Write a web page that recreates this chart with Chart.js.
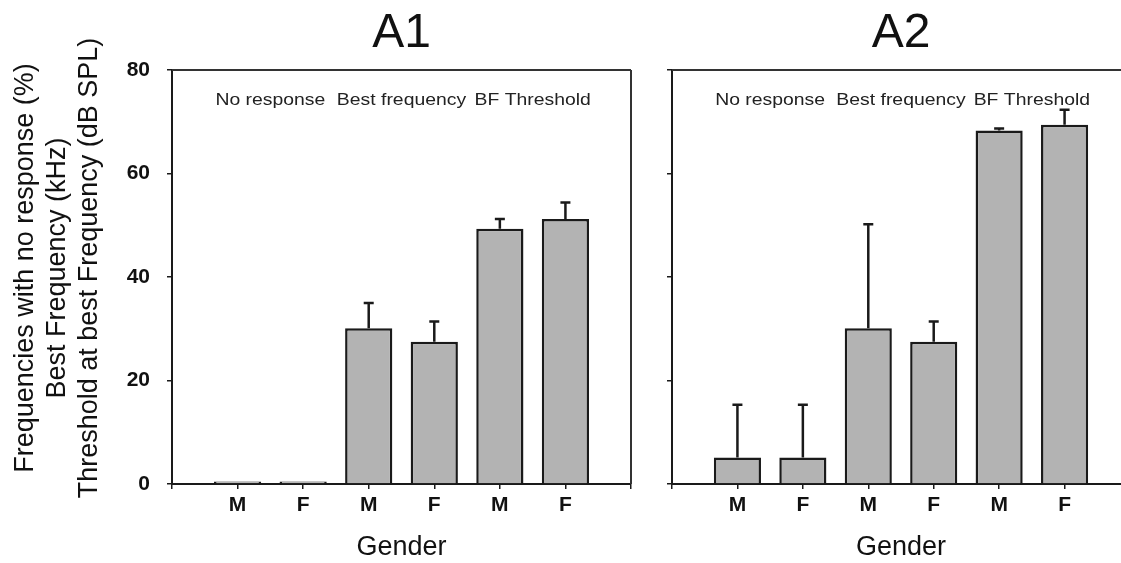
<!DOCTYPE html>
<html>
<head>
<meta charset="utf-8">
<script src="https://cdn.jsdelivr.net/npm/chart.js@4"></script>
<style>
  body { margin: 0; width: 1121px; height: 563px; overflow: hidden; background: #fff; position: relative; }
  .panel { position: absolute; top: 0; }
</style>
</head>
<body>
<div class="panel" style="left:0"><canvas id="chartA1" width="640" height="563"></canvas></div>
<div class="panel" style="left:640px"><canvas id="chartA2" width="500" height="563"></canvas></div>
<script>
// categories
const genders = ['M', 'F', 'M', 'F', 'M', 'F'];
const groupNames = ['No response', 'Best frequency', 'BF Threshold'];
const yTicks = [0, 20, 40, 60, 80];

// A1 means and error (upper bar only)
const a1Means = [0.5, 0.5, 30.1, 27.5, 49.3, 51.2];
const a1Errors = [0, 0, 4.9, 3.9, 1.9, 3.2];

// A2 means and error
const a2Means = [5.1, 5.1, 30.1, 27.5, 68.3, 69.4];
const a2Errors = [10.2, 10.2, 20.1, 3.9, 0.4, 2.9];

const FONT = '"Liberation Sans", Arial, sans-serif';
const INK = '#1a1a1a';

// one empty slot on each side of the six bars
const padLabels = ['', ...genders, ''];
const pad = arr => [null, ...arr, null];

const errorBars = {
    id: 'errorBars',
    afterDatasetsDraw(chart, args, opts) {
        const ctx = chart.ctx;
        const y = chart.scales.y;
        const meta = chart.getDatasetMeta(0);
        ctx.save();
        ctx.strokeStyle = INK;
        ctx.lineWidth = 2.5;
        meta.data.forEach((bar, i) => {
            const mean = chart.data.datasets[0].data[i];
            const err = opts.errors[i];
            if (mean == null || !err) return;
            const top = y.getPixelForValue(mean + err);
            ctx.beginPath();
            ctx.moveTo(bar.x, bar.y);
            ctx.lineTo(bar.x, top);
            ctx.moveTo(bar.x - 5, top);
            ctx.lineTo(bar.x + 5, top);
            ctx.stroke();
        });
        ctx.restore();
    }
};

const decorations = {
    id: 'decorations',
    afterDraw(chart, args, opts) {
        const ctx = chart.ctx;
        const area = chart.chartArea;
        const x = chart.scales.x;
        ctx.save();
        // frame: top line and (optionally) right line
        ctx.strokeStyle = '#333';
        ctx.lineWidth = 2;
        ctx.beginPath();
        ctx.moveTo(area.left, area.top);
        ctx.lineTo(area.right, area.top);
        if (opts.rightBorder) {
            ctx.moveTo(area.right, area.top);
            ctx.lineTo(area.right, area.bottom);
        }
        ctx.stroke();

        ctx.fillStyle = '#111';
        const mid = (area.left + area.right) / 2;

        // panel title
        ctx.font = '48px ' + FONT;
        ctx.textAlign = 'center';
        ctx.textBaseline = 'alphabetic';
        ctx.fillText(opts.title, mid, 47);

        // group labels
        ctx.font = '17px ' + FONT;
        ctx.fillStyle = '#222';
        groupNames.forEach((name, g) => {
            const cx = x.getPixelForValue(g * 2 + 1.5);
            ctx.save();
            ctx.translate(cx, 105);
            ctx.scale(1.14, 1);
            ctx.fillText(name, 0, 0);
            ctx.restore();
        });

        // x axis title
        ctx.fillStyle = '#111';
        ctx.font = '27px ' + FONT;
        ctx.fillText('Gender', mid, 555);

        // y axis title (left panel only)
        if (opts.yTitle) {
            ctx.font = '27px ' + FONT;
            ctx.textBaseline = 'middle';
            opts.yTitle.forEach((line, k) => {
                ctx.save();
                ctx.translate(26 + k * 32, 268);
                ctx.rotate(-Math.PI / 2);
                ctx.fillText(line, 0, 0);
                ctx.restore();
            });
        }
        ctx.restore();
    }
};

function makePanel(id, means, errors, cfg) {
    const ctx = document.getElementById(id).getContext('2d');
    return new Chart(ctx, {
        type: 'bar',
        data: {
            labels: padLabels,
            datasets: [{
                data: pad(means),
                backgroundColor: '#b3b3b3',
                borderColor: INK,
                borderWidth: 2.5,
                categoryPercentage: 1,
                barPercentage: 0.72
            }]
        },
        options: {
            responsive: false,
            animation: false,
            devicePixelRatio: 1,
            layout: { padding: { top: 70, right: cfg.padRight, left: 0, bottom: 0 } },
            plugins: {
                legend: { display: false },
                tooltip: { enabled: false },
                errorBars: { errors: pad(errors) },
                decorations: { title: cfg.title, rightBorder: cfg.rightBorder, yTitle: cfg.yTitle }
            },
            scales: {
                x: {
                    offset: false,
                    grid: { offset: false, drawOnChartArea: false, drawTicks: true, tickLength: 5, color: INK, lineWidth: 1.5 },
                    border: { display: true, color: INK, width: 2 },
                    ticks: { color: '#111', font: { family: FONT, size: 21, weight: 'bold' }, padding: 4, maxRotation: 0, autoSkip: false },
                    afterFit: s => { s.height = 79; }
                },
                y: {
                    min: yTicks[0],
                    max: yTicks[yTicks.length - 1],
                    afterBuildTicks: s => { s.ticks = yTicks.map(v => ({ value: v })); },
                    grid: { drawOnChartArea: false, drawTicks: true, tickLength: 5, color: INK, lineWidth: 1.5 },
                    border: { display: true, color: INK, width: 2 },
                    ticks: { display: cfg.showYLabels, color: '#111', font: { family: FONT, size: 21, weight: 'bold' }, padding: 17 },
                    afterFit: s => { s.width = cfg.yWidth; }
                }
            }
        },
        plugins: [errorBars, decorations]
    });
}

makePanel('chartA1', a1Means, a1Errors, {
    title: 'A1', padRight: 9, yWidth: 172, showYLabels: true, rightBorder: true,
    yTitle: ['Frequencies with no response (%)', 'Best Frequency (kHz)', 'Threshold at best Frequency (dB SPL)']
});
makePanel('chartA2', a2Means, a2Errors, {
    title: 'A2', padRight: 10, yWidth: 32, showYLabels: false, rightBorder: false, yTitle: null
});
</script>
</body>
</html>
